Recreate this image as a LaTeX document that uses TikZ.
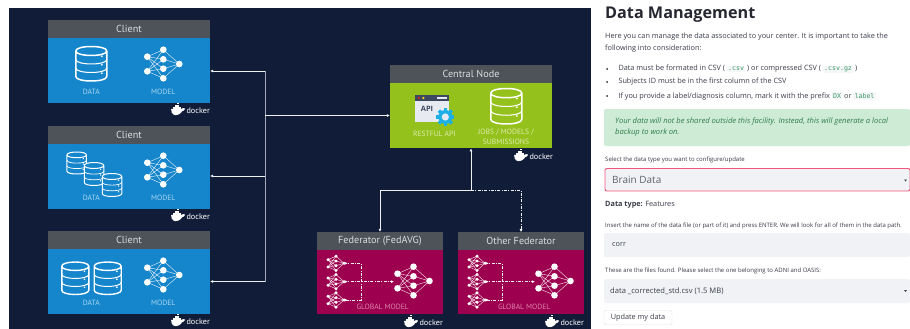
\documentclass[tikz,border=0pt]{standalone}
\usepackage{fontspec}
\setmainfont{Open Sans}
\setsansfont{Open Sans}
\setmonofont{DejaVu Sans Mono}
\newfontfamily\dinfont{PT Sans}
\usetikzlibrary{arrows.meta,calc}
\definecolor{navy}{HTML}{101C38}
\definecolor{headgrey}{HTML}{4D5359}
\definecolor{clientblue}{HTML}{1586CB}
\definecolor{centralgreen}{HTML}{95C11C}
\definecolor{fedred}{HTML}{9D004E}
\definecolor{lblblue}{HTML}{A8D6F2}
\definecolor{lblgreen}{HTML}{DCEBAE}
\definecolor{lblred}{HTML}{DE85B0}
\definecolor{wirewhite}{HTML}{EEF0F4}
\definecolor{wiregrey}{HTML}{A6AAB8}
\definecolor{inktext}{HTML}{3A3C48}
\definecolor{titletext}{HTML}{262730}
\definecolor{okfill}{HTML}{CEEBD5}
\definecolor{oktext}{HTML}{2F7D4D}
\definecolor{chipfill}{HTML}{F5F6F8}
\definecolor{chiptext}{HTML}{3E9A68}
\definecolor{widgetfill}{HTML}{F0F2F6}
\definecolor{focusred}{HTML}{F0567A}
\definecolor{btnline}{HTML}{E3E4E8}
\definecolor{apibar}{HTML}{3C4860}
\definecolor{apibody}{HTML}{E8EAF2}
\definecolor{gearblue}{HTML}{1DB0E6}
\newcommand{\chip}[1]{{\fboxsep=1.2pt\colorbox{chipfill}{\ttfamily\fontsize{6.6}{7}\selectfont\textcolor{chiptext}{#1}}}}
\tikzset{
  x=1pt,y=-1pt,
  boxhead/.style={fill=headgrey,text=white!80!headgrey,font=\dinfont\fontsize{10.2}{11}\selectfont,inner sep=0pt,minimum height=18pt,anchor=center},
  boxbody/.style={inner sep=0pt,anchor=north},
  iconlabel/.style={font=\dinfont\fontsize{7.6}{8}\selectfont,inner sep=0pt,anchor=center},
  dockertext/.style={font=\dinfont\fontsize{8.2}{9}\selectfont,text=white,inner sep=0pt,anchor=east},
  wire/.style={draw=wirewhite,line width=.9pt,{Latex[length=3pt,width=3pt]}-},
  plainwire/.style={draw=wiregrey,line width=.9pt},
  wiredot/.style={draw=wirewhite,line width=.8pt,dash pattern=on 3pt off 1.4pt on .8pt off 1.4pt},
  webtext/.style={font=\fontsize{7.3}{9}\selectfont,text=inktext,inner sep=0pt,anchor=west},
  smalltext/.style={font=\fontsize{6}{7}\selectfont,text=inktext,inner sep=0pt,anchor=west},
  widget/.style={fill=widgetfill,rounded corners=2pt}
}
% database icon: centre x, top y, width, height, line width, fill
\newcommand{\dbicon}[6]{%
 \begin{scope}[shift={(#1,#2)},line width=#5pt,draw=white,line join=round]
 \pgfmathsetmacro{\ha}{#3/2}\pgfmathsetmacro{\hb}{#4*.13}\pgfmathsetmacro{\hh}{#4}
 \pgfmathsetmacro{\yt}{\hb}\pgfmathsetmacro{\yb}{\hh-\hb}
 \pgfmathsetmacro{\yo}{\yt+(\yb-\yt)/3}\pgfmathsetmacro{\yw}{\yt+2*(\yb-\yt)/3}
 \pgfmathsetmacro{\cc}{1.33*\hb}
 \path[fill=#6] (-\ha,\yt) .. controls (-\ha,\yt-\cc) and (\ha,\yt-\cc) .. (\ha,\yt) -- (\ha,\yb) .. controls (\ha,\yb+\cc) and (-\ha,\yb+\cc) .. (-\ha,\yb) -- cycle;
 \draw (-\ha,\yt) .. controls (-\ha,\yt-\cc) and (\ha,\yt-\cc) .. (\ha,\yt) .. controls (\ha,\yt+\cc) and (-\ha,\yt+\cc) .. (-\ha,\yt) -- (-\ha,\yb) .. controls (-\ha,\yb+\cc) and (\ha,\yb+\cc) .. (\ha,\yb) -- (\ha,\yt);
 \draw[line width=.7*#5pt] (-\ha,\yo) .. controls (-\ha,\yo+\cc) and (\ha,\yo+\cc) .. (\ha,\yo);
 \draw[line width=.7*#5pt] (-\ha,\yw) .. controls (-\ha,\yw+\cc) and (\ha,\yw+\cc) .. (\ha,\yw);
 \foreach \dy in {\yo,\yw,\yb}{\fill[white] (.68*\ha,\dy-.12*\hh+.9) circle[radius=.055*\ha+.2];}
 \end{scope}}
% network icon: centre x, y, scale
\newcommand{\neticon}[3]{%
 \begin{scope}[shift={(#1,#2)},scale=#3]
 \foreach \a in {-7.3,7.3}\foreach \b in {-14.3,-4.7,4.7,14.3}{\draw[white,line width=.35pt] (-16,\a) -- (0,\b);}
 \foreach \b in {-14.3,-4.7,4.7,14.3}{\draw[white,line width=.35pt] (0,\b) -- (16,0);}
 \foreach \p/\q in {-16/-7.3,-16/7.3,0/-14.3,0/-4.7,0/4.7,0/14.3,16/0}{\fill[white] (\p,\q) circle[radius=3.3];}
 \end{scope}}
% docker logo: left x, top y, node name
\newcommand{\dockerlogo}[3]{%
 \begin{scope}[shift={(#1,#2)}]
 \fill[white] (.1,4.8) -- (10.5,4.8) .. controls (11.5,3.8) and (12.5,4) .. (14.2,4.6) .. controls (13.2,6.8) and (12,7) .. (11.2,7.2) .. controls (9,11) and (5,11.4) .. (3,10.9) .. controls (1,10.3) and (.1,8) .. cycle;
 \foreach \p/\q in {2/2.8,4.1/2.8,6.2/2.8,8.3/2.8,4.1/.7,6.2/.7,6.2/-1.4}{\fill[white] (\p,\q) rectangle ++(1.8,1.8);}
 \node[dockertext] (#3) at (39,7) {docker};
 \end{scope}}
% federator inside: left x of the box
\newcommand{\fedinside}[1]{%
 \begin{scope}[shift={(#1,0)}]
 \foreach \yy in {263.3,281.7,300}{\neticon{19}{\yy}{.5}}
 \draw[wiredot] (27,263.3) -- (44,263.3) -- (44,300) -- (27,300);
 \draw[wiredot,-{Latex[length=3pt,width=3pt]}] (27,281.7) -- (77,281.7);
 \fill[white] (29,263.3) ++(-1.5,-1.5) -- ++(3,1.5) -- ++(-3,1.5) -- cycle;
 \fill[white] (29,281.7) ++(-1.5,-1.5) -- ++(3,1.5) -- ++(-3,1.5) -- cycle;
 \fill[white] (29,300) ++(-1.5,-1.5) -- ++(3,1.5) -- ++(-3,1.5) -- cycle;
 \neticon{96.5}{281}{1}
 \end{scope}}
\begin{document}
\begin{tikzpicture}
\useasboundingbox (0,0) rectangle (910,329);
\fill[white] (0,0) rectangle (910,329);
\fill[navy] (9,8) rectangle (590.7,329);
% clients
\foreach \nm/\top in {1/20,2/126,3/231}{
  \node[boxhead,minimum width=162pt] (clienthead\nm) at (129,\top+9) {Client};
  \node[boxbody,fill=clientblue,minimum width=162pt,minimum height=65pt] (client\nm) at (129,\top+18) {};
  \neticon{163.3}{\top+44}{1}
  \node[iconlabel,text=lblblue] (clientdata\nm) at (91.3,\top+72) {DATA};
  \node[iconlabel,text=lblblue] (clientmodel\nm) at (163.3,\top+72) {MODEL};
  \dockerlogo{171}{\top+84}{clientdocker\nm}
}
\dbicon{91.3}{46.5}{31}{34.5}{1.5}{clientblue}
\dbicon{76.7}{152}{19.5}{22}{1}{clientblue}
\dbicon{94}{162.5}{19.5}{23}{1}{clientblue}
\dbicon{112}{173.5}{19.5}{23}{1}{clientblue}
\dbicon{75.3}{262}{27}{32.5}{1.4}{clientblue}
\dbicon{107.7}{262}{27}{32.5}{1.4}{clientblue}
% central node
\node[boxhead,minimum width=162pt] (centralhead) at (471,74) {Central Node};
\node[boxbody,fill=centralgreen,minimum width=162pt,minimum height=65pt] (central) at (471,83) {};
\fill[apibody] (415,95) rectangle (449.3,121.7);
\fill[apibar] (415,95) rectangle (449.3,100.7);
\fill[red!75!orange] (418.7,98) circle[radius=1.2];
\fill[yellow!80!orange] (423.3,98) circle[radius=1.2];
\fill[apibody] (436.5,97.2) rectangle (447,98.8);
\node[font=\fontsize{7.4}{8}\selectfont\bfseries,text=apibar,inner sep=0pt] (apitext) at (427,109) {API};
\foreach \ang in {0,45,...,315}{\fill[gearblue,rotate around={\ang:(445.3,117)}] (443.7,108) rectangle (446.9,126);}
\fill[gearblue] (445.3,117) circle[radius=7];
\fill[apibody] (445.3,117) circle[radius=3.6];
\dbicon{506.3}{88.5}{31}{35.5}{1.5}{centralgreen}
\node[iconlabel,text=lblgreen] (restlabel) at (434.3,134) {RESTFUL API};
\node[iconlabel,text=lblgreen] (jobslabel) at (506,132) {JOBS / MODELS /};
\node[iconlabel,text=lblgreen] (sublabel) at (506,141.5) {SUBMISSIONS};
\dockerlogo{514}{150}{centraldocker}
% federators
\node[boxhead,minimum width=126pt] (fedhead) at (380,241) {Federator (FedAVG)};
\node[boxbody,fill=fedred,minimum width=126pt,minimum height=64pt] (fed) at (380,250) {};
\node[boxhead,minimum width=126pt] (otherhead) at (521,241) {Other Federator};
\node[boxbody,fill=fedred,minimum width=126pt,minimum height=64pt] (other) at (521,250) {};
\fedinside{317}
\fedinside{458}
\node[iconlabel,text=lblred] (fedlabel) at (382.7,307.3) {GLOBAL MODEL};
\node[iconlabel,text=lblred] (otherlabel) at (524.2,307.3) {GLOBAL MODEL};
\dockerlogo{404}{316}{feddocker}
\dockerlogo{545}{316}{otherdocker}
% connectors
\coordinate (busT) at (265,71);
\coordinate (busM) at (265,176);
\coordinate (busB) at (265,281.5);
\coordinate (busC) at (265,115.5);
\coordinate (fork) at (471,190);
\draw[plainwire] (busT) -- (busB);
\draw[wire] (client1.east|-busT) -- (busT);
\draw[wire] (client2.east|-busM) -- (busM);
\draw[wire] (client3.east|-busB) -- (busB);
\draw[wire] (central.west|-busC) -- (busC);
\draw[wire] (central.south-|fork) -- (fork);
\draw[wire] (fedhead.north) -- (fedhead.north|-fork) -- (fork);
\draw[wiredot] (fork) -- (otherhead.north|-fork) -- (otherhead.north);
\fill[wirewhite] (otherhead.north) ++(-1.5,-3) -- ++(3,0) -- ++(-1.5,3) -- cycle;
% web page
\node[inner sep=0pt,anchor=west,font=\fontsize{16.2}{20}\selectfont\bfseries,text=titletext] (title) at (605,15) {Data Management};
\node[webtext] (p1) at (605,37) {Here you can manage the data associated to your center. It is important to take the};
\node[webtext] (p2) at (605,49) {following into consideration:};
\foreach \yy in {69,82,96}{\fill[titletext] (607,\yy) circle[radius=1];}
\node[webtext] (b1) at (618.3,69) {Data must be formated in CSV ( \chip{.csv} ) or compressed CSV ( \chip{.csv.gz} )};
\node[webtext] (b2) at (618.3,82) {Subjects ID must be in the first column of the CSV};
\node[webtext] (b3) at (618.3,96) {If you provide a label/diagnosis column, mark it with the prefix \chip{DX} or \chip{label}};
\fill[okfill,rounded corners=2pt] (604,109) rectangle (910,146);
\node[webtext,text=oktext,font=\fontsize{7.6}{9}\selectfont\itshape] (ok1) at (615,121.5) {Your data will not be shared outside this facility. Instead, this will generate a local};
\node[webtext,text=oktext,font=\fontsize{7.6}{9}\selectfont\itshape] (ok2) at (615,133) {backup to work on.};
\node[smalltext] (l1) at (605,160) {Select the data type you want to configure/update};
\draw[widget,draw=focusred,line width=.9pt] (605,168.5) rectangle (910,191);
\node[webtext,font=\fontsize{10}{12}\selectfont,text=inktext!80] (brain) at (612,180) {Brain Data};
\fill[inktext] (904,179.5) -- (907,179.5) -- (905.5,181.5) -- cycle;
\node[webtext] (dt) at (605,205) {\textbf{Data type:} Features};
\node[smalltext] (l2) at (605,225.5) {Insert the name of the data file (or part of it) and press ENTER. We will look for all of them in the data path.};
\fill[widget] (604,233) rectangle (910,257);
\node[webtext] (corr) at (612,245) {corr};
\node[smalltext] (l3) at (605,270.5) {These are the files found. Please select the one belonging to ADNI and OASIS:};
\fill[widget] (604,279) rectangle (910,303);
\node[webtext,font=\fontsize{7.6}{9}\selectfont] (file) at (610,291) {data \_corrected\_std.csv (1.5 MB)};
\fill[inktext] (904,290) -- (907,290) -- (905.5,292) -- cycle;
\node[draw=btnline,fill=white,rounded corners=1.5pt,font=\fontsize{7.3}{9}\selectfont,text=inktext,inner sep=0pt,minimum width=68pt,minimum height=14.5pt] (btn) at (638,317.5) {Update my data};
\end{tikzpicture}
\end{document}
